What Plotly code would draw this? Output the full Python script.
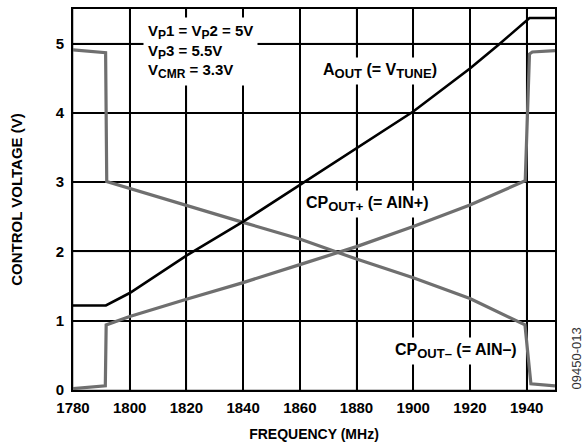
import plotly.graph_objects as go

# ---- data ----
aout_f = [1780, 1791.6, 1800, 1820, 1840, 1860, 1880, 1900, 1920, 1930, 1941, 1950]
aout_v = [1.22, 1.22, 1.40, 1.94, 2.43, 2.96, 3.48, 4.02, 4.64, 4.98, 5.37, 5.37]

cpp_f = [1780, 1791.4, 1791.7, 1800, 1820, 1840, 1860, 1880, 1900, 1920, 1939.5, 1941, 1942, 1950]
cpp_v = [0.02, 0.06, 0.94, 1.06, 1.31, 1.55, 1.81, 2.07, 2.36, 2.67, 3.02, 4.85, 4.88, 4.90]

cpm_f = [1780, 1791.5, 1791.9, 1800, 1820, 1840, 1860, 1880, 1900, 1920, 1939.4, 1941.5, 1950]
cpm_v = [4.91, 4.87, 3.01, 2.91, 2.66, 2.42, 2.18, 1.89, 1.62, 1.32, 0.94, 0.09, 0.06]

x_ticks = [1780, 1800, 1820, 1840, 1860, 1880, 1900, 1920, 1940]
y_ticks = [0, 1, 2, 3, 4, 5]

FONT = "Liberation Sans, Arial, sans-serif"
GRAY = "#6f6f6f"
L, R, T, B = 73, 31, 7, 54
W, H = 586, 447
PW, PH = W - L - R, H - T - B
GRID_W = 1.6

def sub(s, size=13):
    return f"<sub><span style='font-size:{size}px'>{s}</span></sub>"

fig = go.Figure()

# grid lines at the tick values (drawn as shapes below the traces)
for xv in x_ticks:
    fig.add_shape(type="line", xref="x", yref="paper", x0=xv, x1=xv, y0=0, y1=1,
                  line=dict(color="black", width=GRID_W), layer="below")
for yv in y_ticks:
    fig.add_shape(type="line", xref="paper", yref="y", x0=0, x1=1, y0=yv, y1=yv,
                  line=dict(color="black", width=GRID_W), layer="below")

fig.add_trace(go.Scatter(x=cpm_f, y=cpm_v, mode="lines",
                         line=dict(color=GRAY, width=3.2), showlegend=False))
fig.add_trace(go.Scatter(x=cpp_f, y=cpp_v, mode="lines",
                         line=dict(color=GRAY, width=3.2), showlegend=False))
fig.add_trace(go.Scatter(x=aout_f, y=aout_v, mode="lines",
                         line=dict(color="black", width=2.6), showlegend=False))

ann_font = dict(family=FONT, size=16, color="black", weight="bold")

fig.add_annotation(x=1804.7, y=4.89, xref="x", yref="y",
                   text=(f"V{sub('P', 12)}1 = V{sub('P', 12)}2 = 5V<br>"
                         f"V{sub('P', 12)}3 = 5.5V<br>V{sub('CMR', 12)} = 3.3V"),
                   showarrow=False, xanchor="left", yanchor="middle", align="left",
                   bgcolor="white", borderpad=4, font=dict(ann_font, size=15))
fig.add_annotation(x=1888.2, y=4.6, xref="x", yref="y",
                   text=f"A{sub('OUT')} (= V{sub('TUNE')})",
                   showarrow=False, bgcolor="white", borderpad=3, font=ann_font)
fig.add_annotation(x=1883.6, y=2.68, xref="x", yref="y",
                   text=f"CP{sub('OUT+')} (= AIN+)",
                   showarrow=False, bgcolor="white", borderpad=3, font=ann_font)
fig.add_annotation(x=1915.2, y=0.57, xref="x", yref="y",
                   text=f"CP{sub('OUT–')} (= AIN–)",
                   showarrow=False, bgcolor="white", borderpad=3, font=ann_font)
fig.add_annotation(x=(576 - L) / PW, y=(H - B - 361) / PH,
                   xref="paper", yref="paper", xanchor="center", yanchor="middle",
                   text="09450-013", showarrow=False, textangle=-90,
                   font=dict(family=FONT, size=13, color="#333333"))

fig.update_layout(
    template="simple_white",
    width=W, height=H,
    margin=dict(l=L, r=R, t=T, b=B),
    paper_bgcolor="white", plot_bgcolor="rgba(0,0,0,0)",
    font=dict(family=FONT, size=15, color="black"),
)
axis_common = dict(showgrid=True, gridcolor="black", gridwidth=GRID_W,
                   showline=True, linecolor="black", linewidth=1.6, mirror=True,
                   ticks="", zeroline=False,
                   tickfont=dict(family=FONT, size=15, weight="bold"))
fig.update_xaxes(range=[1780, 1950], tickvals=x_ticks, ticklabelstandoff=3,
                 title=dict(text="FREQUENCY (MHz)", standoff=14,
                            font=dict(family=FONT, size=14, weight="bold")),
                 **axis_common)
fig.update_yaxes(range=[0, 5.5], tickvals=y_ticks, ticklabelstandoff=4,
                 title=dict(text="CONTROL VOLTAGE (V)", standoff=30,
                            font=dict(family=FONT, size=15, weight="bold")),
                 **axis_common)

fig.write_html("out.html", config={"displayModeBar": False},
               post_script="document.body.style.margin='0px';document.body.style.padding='0px';")
